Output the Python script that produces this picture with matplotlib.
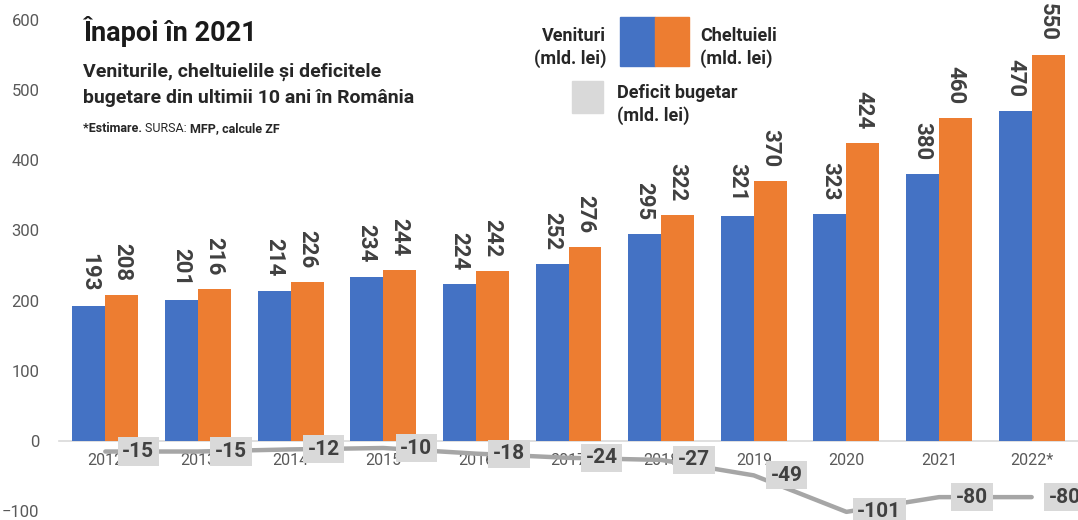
# Veniturile, cheltuielile si deficitele bugetare 2012-2022
import matplotlib
matplotlib.use("Agg")
import matplotlib.pyplot as plt
import numpy as np
from matplotlib.patches import Rectangle

plt.rcParams["font.family"] = ["Roboto", "DejaVu Sans"]

ani = ["2012", "2013", "2014", "2015", "2016", "2017", "2018", "2019", "2020", "2021", "2022*"]
venituri = [193, 201, 214, 234, 224, 252, 295, 321, 323, 380, 470]
cheltuieli = [208, 216, 226, 244, 242, 276, 322, 370, 424, 460, 550]
deficit = [-15, -15, -12, -10, -18, -24, -27, -49, -101, -80, -80]

BLUE = "#4472C4"
ORANGE = "#ED7D31"
GREY_LINE = "#A6A6A6"
GREY_BOX = "#D9D9D9"
DARK = "#404040"
TICK = "#595959"
TXT = "#262626"

W, H = 1078, 520
fig = plt.figure(figsize=(W / 100, H / 100), dpi=100)
ax = fig.add_axes([59 / W, 0, 1 - 59 / W, 1])

x = np.arange(len(ani))
bw = 0.356
ax.bar(x - bw / 2, venituri, bw, color=BLUE, zorder=2)
ax.bar(x + bw / 2, cheltuieli, bw, color=ORANGE, zorder=2)

for xi, v in zip(x - bw / 2, venituri):
    ax.annotate(str(v), (xi, v), xytext=(0, 14), textcoords="offset pixels",
                rotation=-90, ha="center", va="bottom", fontsize=16,
                fontweight="bold", color=DARK)
for xi, v in zip(x + bw / 2, cheltuieli):
    ax.annotate(str(v), (xi, v), xytext=(0, 14), textcoords="offset pixels",
                rotation=-90, ha="center", va="bottom", fontsize=16,
                fontweight="bold", color=DARK)

ax.plot(x, deficit, color=GREY_LINE, lw=3.2, solid_joinstyle="round",
        solid_capstyle="round", zorder=3)
for xi, d in zip(x, deficit):
    ax.annotate(str(d), (xi, d), xytext=(33, 0), textcoords="offset pixels",
                ha="center", va="center", fontsize=15, fontweight="bold",
                color=DARK, zorder=4,
                bbox=dict(boxstyle="square,pad=0.22", fc=GREY_BOX, ec="none"))

ax.set_xlim(-0.5, len(ani) - 0.5)
ax.set_ylim(-112.6, 628.5)
ax.set_yticks([-100, 0, 100, 200, 300, 400, 500, 600])
ax.set_xticks(x)
ax.set_xticklabels(ani)
ax.tick_params(axis="y", length=0, pad=14, labelsize=12, labelcolor=TICK)
ax.tick_params(axis="x", length=0, pad=9, labelsize=11.5, labelcolor=TICK)
for s in ["top", "right", "left"]:
    ax.spines[s].set_visible(False)
ax.spines["bottom"].set_position(("data", 0))
ax.spines["bottom"].set_color("#D9D9D9")
ax.spines["bottom"].set_linewidth(1.2)
ax.spines["bottom"].set_zorder(1)
ax.set_facecolor("none")


def px(xp, yp):
    return xp / W, 1 - yp / H


# titlu
fig.text(*px(83, 41), "Înapoi în 2021", fontsize=19.5, fontweight="bold",
         color="#1a1a1a", va="baseline")
fig.text(*px(83, 77), "Veniturile, cheltuielile și deficitele", fontsize=14,
         fontweight="bold", color=TXT, va="baseline")
fig.text(*px(83, 103), "bugetare din ultimii 10 ani în România", fontsize=14,
         fontweight="bold", color=TXT, va="baseline")

t1 = fig.text(*px(83, 132), "*Estimare. ", fontsize=9, fontweight="bold",
              color=TXT, va="baseline")
t2 = fig.text(0, 0, "SURSA: ", fontsize=9, color=TXT, va="baseline")
t3 = fig.text(0, 0, "MFP, calcule ZF", fontsize=9, fontweight="bold",
              color=TXT, va="baseline")
fig.canvas.draw()
r = fig.canvas.get_renderer()
bb = t1.get_window_extent(r)
t2.set_position((bb.x1 / W, 1 - 132 / H))
bb = t2.get_window_extent(r)
t3.set_position((bb.x1 / W, 1 - 132 / H))

# legenda
fig.patches.append(Rectangle(px(620, 66), 35 / W, 49 / H, color=BLUE,
                             transform=fig.transFigure))
fig.patches.append(Rectangle(px(655, 66), 34 / W, 49 / H, color=ORANGE,
                             transform=fig.transFigure))
fig.patches.append(Rectangle(px(572, 113), 31 / W, 32 / H, color=GREY_BOX,
                             transform=fig.transFigure))
fig.text(*px(606, 41), "Venituri", fontsize=13, fontweight="bold",
         color=TXT, ha="right", va="baseline")
fig.text(*px(606, 64), "(mld. lei)", fontsize=13, fontweight="bold",
         color=TXT, ha="right", va="baseline")
fig.text(*px(700, 41), "Cheltuieli", fontsize=13, fontweight="bold",
         color=TXT, va="baseline")
fig.text(*px(700, 64), "(mld. lei)", fontsize=13, fontweight="bold",
         color=TXT, va="baseline")
fig.text(*px(617, 98), "Deficit bugetar", fontsize=13, fontweight="bold",
         color=TXT, va="baseline")
fig.text(*px(617, 121), "(mld. lei)", fontsize=13, fontweight="bold",
         color=TXT, va="baseline")

fig.savefig("out.png", dpi=100)
